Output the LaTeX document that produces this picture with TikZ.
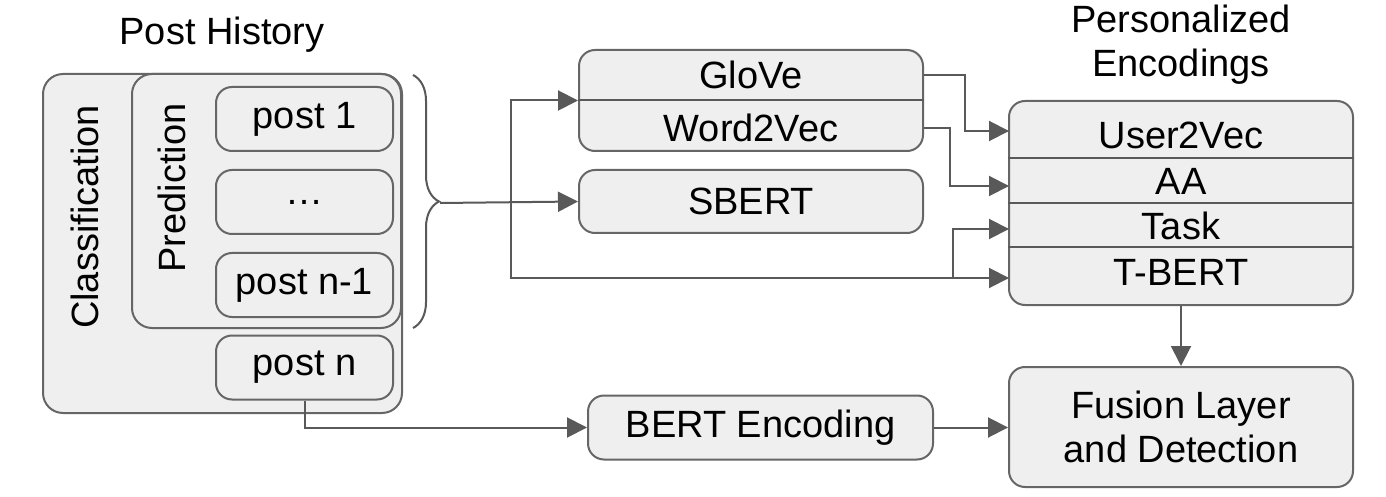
\documentclass[tikz,border=0pt]{standalone}
\usepackage{fontspec}
\setmainfont{Liberation Sans}
\usetikzlibrary{arrows.meta,decorations.pathreplacing}

\definecolor{boxfill}{HTML}{EFEFEF}
\definecolor{boxline}{HTML}{666666}
\definecolor{arrline}{HTML}{595959}

\tikzset{
  box/.style={draw=boxline, fill=boxfill, line width=1pt, rounded corners=8pt,
    inner sep=0pt, minimum width=88.5pt, minimum height=32pt},
  wide/.style={box, minimum width=172pt},
  lbl/.style={inner sep=0pt, align=center},
  arr/.style={draw=arrline, line width=1pt, -{Triangle[length=10pt,width=10pt]}},
  ln/.style={draw=arrline, line width=1pt}
}

\begin{document}
\begin{tikzpicture}[x=0.5pt, y=-0.5pt, font=\fontsize{19}{22}\selectfont]
\useasboundingbox (0,0) rectangle (1386,497);
% post history
\node [lbl, anchor=base] (ph) at (222,45) {Post History};
\node [box, rounded corners=10pt, minimum width=179.5pt, minimum height=169.5pt] (cls) at (222.5,243.5) {};
\node [box, rounded corners=10pt, minimum width=134.5pt, minimum height=127pt] (pred) at (266.5,201) {};
\node [lbl, rotate=90] (clst) at (85,217) {Classification};
\node [lbl, rotate=90] (predt) at (172,188) {Prediction};
\node [box] (post1) at (304.5,119) {post 1};
\node [box] (dots) at (304.5,202) {…};
\node [box] (postn1) at (304.5,285) {post n-1};
\node [box] (postn) at (304.5,367.5) {post n};
\draw [ln, decorate, decoration={brace, amplitude=13pt}] (413,75) -- (413,328);
\coordinate (brtip) at (440,203);
\coordinate (split) at (511,203);
% word embeddings
\node [wide, minimum height=50.5pt] (emb) at (751,100.5) {};
\draw [ln] (emb.west) -- (emb.east);
\node [lbl] (glove) at (751,75) {GloVe};
\node [lbl] (w2v) at (751,128) {Word2Vec};
\node [wide, minimum height=31.5pt] (sbert) at (751,201.5) {SBERT};
% personalized encodings
\node [lbl, anchor=base] (pet) at (1181,77) {Personalized\\Encodings};
\node [wide, minimum height=102pt] (pers) at (1181,203) {};
\draw [ln] (pers.west |- 0,158) -- (pers.east |- 0,158);
\draw [ln] (pers.west |- 0,203) -- (pers.east |- 0,203);
\draw [ln] (pers.west |- 0,247) -- (pers.east |- 0,247);
\node [lbl] (u2v) at (1181,135) {User2Vec};
\node [lbl] (aa) at (1181,181) {AA};
\node [lbl] (task) at (1181,226) {Task};
\node [lbl] (tbert) at (1181,272) {T-BERT};
\coordinate (inU) at (1009,131);
\coordinate (inAA) at (1009,186);
\coordinate (inTask) at (1009,229);
\coordinate (inT) at (1009,278);
\coordinate (tsplit) at (953,278);
% detection
\node [box, minimum width=172pt, minimum height=60pt, align=center] (fusion) at (1181,427) {Fusion Layer\\and Detection};
\node [box, minimum width=172.5pt] (bert) at (760.5,427.5) {BERT Encoding};
% connectors
\draw [arr] (brtip) -- (sbert.west);
\draw [arr] (split) |- (emb.west);
\draw [arr] (split) |- (inT);
\draw [arr] (tsplit) |- (inTask);
\draw [arr] (glove -| emb.east) -- ++(41,0) |- (inU);
\draw [arr] (w2v -| emb.east) -- ++(26,0) |- (inAA);
\draw [arr] (pers.south) -- (fusion.north);
\draw [arr] (postn.south) |- (bert.west);
\draw [arr] (bert.east) -- (fusion.west |- bert.east);
\end{tikzpicture}
\end{document}
